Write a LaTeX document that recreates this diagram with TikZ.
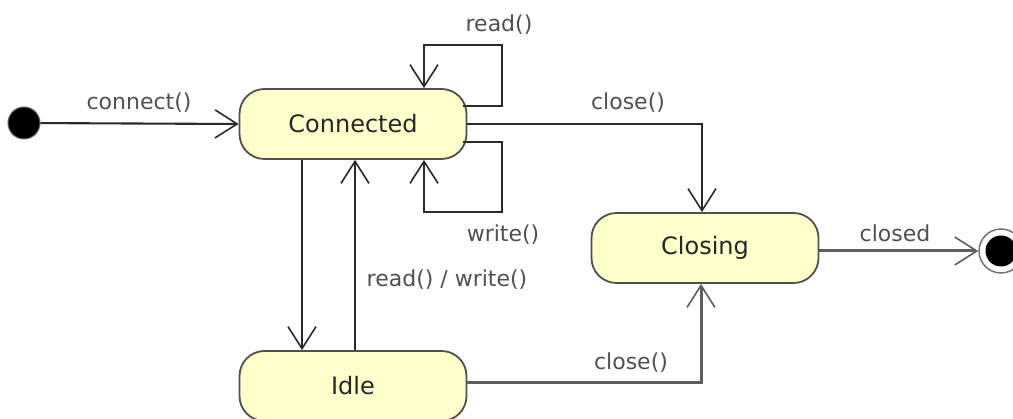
\documentclass[tikz,border=0pt]{standalone}
\usepackage{fontspec}
\setmainfont{DejaVu Sans}
\usetikzlibrary{arrows.meta}

\definecolor{statefill}{HTML}{FFFFCC}
\definecolor{stateedge}{HTML}{505050}
\definecolor{wire}{HTML}{2A2A2A}
\definecolor{softwire}{HTML}{5E5E5E}
\definecolor{labelgray}{HTML}{505050}

\tikzset{
  state/.style={rectangle, rounded corners=25pt,
    minimum width=227pt, minimum height=70pt, inner sep=0pt,
    fill=statefill, draw=stateedge, line width=1.8pt,
    font=\fontsize{24}{28}\selectfont, text=black!85},
  startdot/.style={circle, minimum size=32pt, inner sep=0pt,
    fill=black, draw=black!60, line width=1pt},
  endring/.style={circle, minimum size=44pt, inner sep=0pt,
    fill=white, draw=black!55, line width=1.5pt},
  enddot/.style={circle, minimum size=31pt, inner sep=0pt, fill=black},
  tr/.style={draw=wire, line width=2.1pt, rounded corners=0pt,
    -{Straight Barb[length=22pt,width=28pt,line width=1.6pt]}},
  softtr/.style={tr, draw=softwire, line width=3pt},
  lbl/.style={font=\fontsize{22}{26}\selectfont, text=labelgray, inner sep=0pt},
}

\begin{document}
\begin{tikzpicture}[x=1pt,y=-1pt]
  \fill[white] (0,0) rectangle (1013,419);
  \clip (0,0) rectangle (1013,419);

  % states
  \node[startdot] (init) at (24,123) {};
  \node[state] (conn) at (353,124) {Connected};
  \node[state] (closing) at (705,248) {Closing};
  \node[state] (idle) at (353,386) {Idle};
  \node[endring] (fin) at (1001,251) {};
  \node[enddot] (fincore) at (fin.center) {};

  % corners of the two self loops
  \coordinate (rdc) at (502,45);
  \coordinate (wrc) at (502,212);

  % transitions
  \draw[tr] (init) -- (conn.west);
  \draw[tr] ([shift={(-4pt,18pt)}]conn.east) -| (rdc) -| ([xshift=71pt]conn.north);
  \draw[tr] ([shift={(-4pt,-18pt)}]conn.east) -| (wrc) -| ([xshift=71pt]conn.south);
  \draw[tr] (conn.east) -| ([xshift=-3pt]closing.north);
  \draw[tr] ([xshift=-51pt]conn.south) -- ([xshift=-51pt]idle.north);
  \draw[tr] ([xshift=2pt]idle.north) -- ([xshift=2pt]conn.south);
  \draw[softtr] ([yshift=3pt]idle.east) -| ([xshift=-4pt]closing.south);
  \draw[softtr] ([yshift=-3pt]closing.east) -- (fin.west);

  % transition labels
  \node[lbl] (lconnect) at (139,103) {connect()};
  \node[lbl] (lread) at (499,25) {read()};
  \node[lbl] (lwrite) at (503,235) {write()};
  \node[lbl] (lrw) at (447,280) {read() / write()};
  \node[lbl] (lclose1) at (628,103) {close()};
  \node[lbl] (lclose2) at (631,363) {close()};
  \node[lbl] (lclosed) at (895,233) {closed};
\end{tikzpicture}
\end{document}
